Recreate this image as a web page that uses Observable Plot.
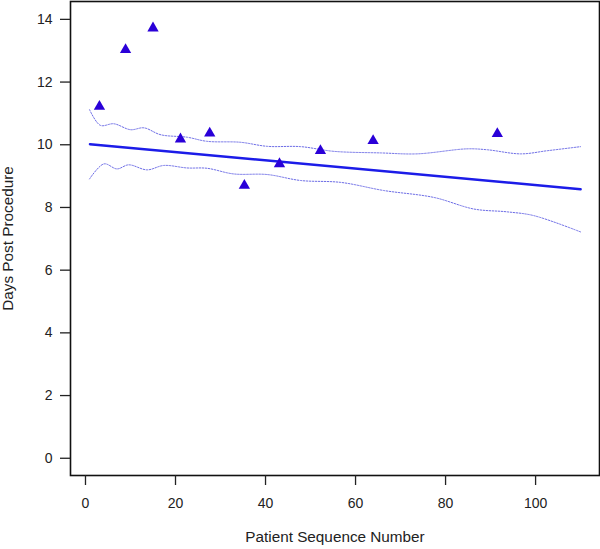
<!DOCTYPE html>
<html>
<head>
<meta charset="utf-8">
<script src="https://cdn.jsdelivr.net/npm/d3@7"></script>
<script src="https://cdn.jsdelivr.net/npm/@observablehq/plot@0.6"></script>
<style>
  html, body { margin: 0; padding: 0; background: #fff; }
  #chart svg { display: block; }
</style>
</head>
<body>
<div id="chart"></div>
<script>
// Observed points
const patientSeq = [3.1, 8.9, 15.0, 21.1, 27.6, 35.3, 43.1, 52.2, 63.9, 91.5];
const daysPost   = [11.22, 13.03, 13.72, 10.18, 10.37, 8.70, 9.39, 9.81, 10.13, 10.35];

// Fitted regression line
const fitX = [1, 110];
const fitY = [10.02, 8.58];

// Upper confidence band
const upperX = [0.9, 3.3, 6.3, 10, 13, 16.7, 22.6, 27, 34.4, 40.4, 47.8, 55.2, 65.6, 73.7, 84.8, 89.3, 96.7, 102.6, 110];
const upperY = [11.12, 10.62, 10.67, 10.48, 10.54, 10.32, 10.24, 10.11, 10.08, 9.95, 9.94, 9.79, 9.74, 9.71, 9.87, 9.84, 9.71, 9.81, 9.94];

// Lower confidence band
const lowerX = [0.9, 4.1, 7, 9.6, 13.7, 17.4, 22.6, 27, 32.9, 40.4, 47.8, 56.7, 66.3, 77.4, 86.3, 93.7, 99.6, 110];
const lowerY = [8.91, 9.39, 9.23, 9.36, 9.20, 9.34, 9.26, 9.25, 9.07, 9.05, 8.86, 8.80, 8.54, 8.32, 7.95, 7.86, 7.74, 7.22];

// Tick labels
const xTicks = [0, 20, 40, 60, 80, 100];
const yTicks = [0, 2, 4, 6, 8, 10, 12, 14];

const xTitle = "Patient Sequence Number";
const yTitle = "Days Post Procedure";

const points = patientSeq.map((x, i) => ({x, y: daysPost[i]}));
const fit = fitX.map((x, i) => ({x, y: fitY[i]}));
const upper = upperX.map((x, i) => ({x, y: upperY[i]}));
const lower = lowerX.map((x, i) => ({x, y: lowerY[i]}));

const chart = Plot.plot({
  width: 600,
  height: 549,
  marginLeft: 70,
  marginRight: 1,
  marginTop: 1,
  marginBottom: 74,
  style: {fontFamily: "'Liberation Sans', Arial, sans-serif", fontSize: "14px", color: "#222", background: "#fff"},
  x: {domain: [-3.33, 114.2]},
  y: {domain: [-0.55, 14.57]},
  marks: [
    Plot.line(upper, {x: "x", y: "y", curve: "catmull-rom", stroke: "#6c6ce6", strokeWidth: 1, strokeDasharray: "1.5,1.5"}),
    Plot.line(lower, {x: "x", y: "y", curve: "catmull-rom", stroke: "#6c6ce6", strokeWidth: 1, strokeDasharray: "1.5,1.5"}),
    Plot.line(fit, {x: "x", y: "y", stroke: "#1c1ce8", strokeWidth: 2.5}),
    Plot.dot(points, {x: "x", y: "y", symbol: "triangle", r: 4.2, fill: "#2a00d8", stroke: "none"}),
    Plot.frame({stroke: "#111", strokeWidth: 1.6}),
    Plot.axisX(xTicks, {tickSize: 10, tickPadding: 13, label: null, stroke: "#222", strokeWidth: 1.3, fill: "#222"}),
    Plot.axisY(yTicks, {tickSize: 10, tickPadding: 8, label: null, stroke: "#222", strokeWidth: 1.3, fill: "#222"}),
    Plot.text([xTitle], {frameAnchor: "bottom", dy: 66, textAnchor: "middle", text: d => d, fill: "#222", fontSize: 15.3}),
    Plot.text([yTitle], {frameAnchor: "left", dx: -62, rotate: -90, textAnchor: "middle", text: d => d, fill: "#222", fontSize: 15.3})
  ]
});
document.getElementById("chart").appendChild(chart);
</script>
</body>
</html>
